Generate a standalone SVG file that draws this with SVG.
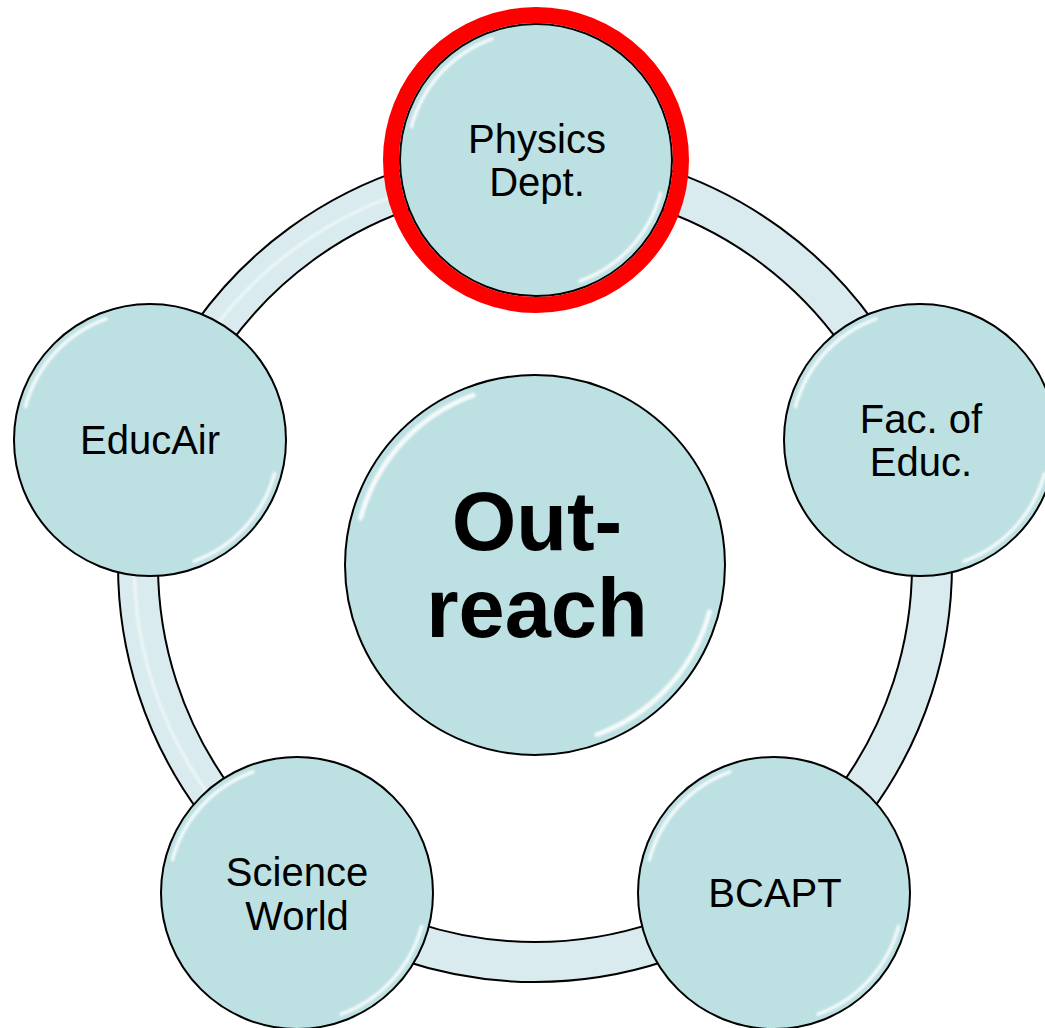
<svg xmlns="http://www.w3.org/2000/svg" xmlns:xlink="http://www.w3.org/1999/xlink" width="1045" height="1028" viewBox="0 0 1045 1028">
  <style>
    .node { fill: #bde0e3; stroke: #000000; stroke-width: 2; }
    .lbl { font-family: "Liberation Sans", Arial, sans-serif; font-size: 40px; fill: #000000; text-anchor: middle; }
    .big { font-family: "Liberation Sans", Arial, sans-serif; font-size: 83px; font-weight: bold; fill: #000000; text-anchor: middle; }
    .bandEdge { fill: none; stroke: #000000; stroke-width: 42; }
    .bandFill { fill: none; stroke: #d9ebee; stroke-width: 38; }
    .bandGloss { fill: none; stroke: #ffffff; stroke-width: 3; stroke-opacity: 0.55; }
    .gloss { fill: none; stroke: #ffffff; stroke-width: 3.5; stroke-linecap: round; stroke-opacity: 0.85; }
  </style>
  <defs>
    <filter id="soft" x="-20%" y="-20%" width="140%" height="140%">
      <feGaussianBlur stdDeviation="0.8"/>
    </filter>
    <g id="glossArcs" filter="url(#soft)">
      <path class="gloss" d="M -124.6 -33.4 A 129 129 0 0 1 -44.1 -121.2"/>
      <path class="gloss" d="M 124.6 33.4 A 129 129 0 0 1 44.1 121.2"/>
    </g>
  </defs>
  <rect width="1045" height="1028" fill="#ffffff"/>

  <g id="connectors">
    <path class="bandEdge" d="M 535 168 A 397 397 0 0 1 912.57 442.32"/>
    <path class="bandFill" d="M 535 168 A 397 397 0 0 1 912.57 442.32"/>
    <path class="bandEdge" d="M 912.57 442.32 A 397 397 0 0 1 768.35 886.18"/>
    <path class="bandFill" d="M 912.57 442.32 A 397 397 0 0 1 768.35 886.18"/>
    <path class="bandEdge" d="M 768.35 886.18 A 397 397 0 0 1 301.65 886.18"/>
    <path class="bandFill" d="M 768.35 886.18 A 397 397 0 0 1 301.65 886.18"/>
    <path class="bandEdge" d="M 301.65 886.18 A 397 397 0 0 1 157.43 442.32"/>
    <path class="bandFill" d="M 301.65 886.18 A 397 397 0 0 1 157.43 442.32"/>
    <path class="bandEdge" d="M 157.43 442.32 A 397 397 0 0 1 535 168"/>
    <path class="bandFill" d="M 157.43 442.32 A 397 397 0 0 1 535 168"/>
    <path class="bandGloss" filter="url(#soft)" d="M 301.65 886.18 A 392 392 0 0 1 535 173"/>
  </g>

  <g id="node-center">
    <circle class="node" cx="535" cy="565" r="190"/>
    <use xlink:href="#glossArcs" transform="translate(535 565) scale(1.4)"/>
    <text class="big" x="537" y="550">Out-</text>
    <text class="big" x="537" y="637">reach</text>
  </g>

  <g id="node-physics">
    <circle class="node" cx="536" cy="160" r="136"/>
    <use xlink:href="#glossArcs" transform="translate(536 160)"/>
    <circle cx="536" cy="160" r="145" fill="none" stroke="#ff0000" stroke-width="16"/>
    <text class="lbl" x="537" y="153">Physics</text>
    <text class="lbl" x="537" y="196">Dept.</text>
  </g>

  <g id="node-faceduc">
    <circle class="node" cx="920" cy="440" r="136"/>
    <use xlink:href="#glossArcs" transform="translate(920 440)"/>
    <text class="lbl" x="921" y="433">Fac. of</text>
    <text class="lbl" x="921" y="476">Educ.</text>
  </g>

  <g id="node-bcapt">
    <circle class="node" cx="774" cy="893" r="136"/>
    <use xlink:href="#glossArcs" transform="translate(774 893)"/>
    <text class="lbl" x="775" y="907">BCAPT</text>
  </g>

  <g id="node-scienceworld">
    <circle class="node" cx="297" cy="893" r="136"/>
    <use xlink:href="#glossArcs" transform="translate(297 893)"/>
    <text class="lbl" x="297" y="886">Science</text>
    <text class="lbl" x="297" y="930">World</text>
  </g>

  <g id="node-educair">
    <circle class="node" cx="150" cy="440" r="136"/>
    <use xlink:href="#glossArcs" transform="translate(150 440)"/>
    <text class="lbl" x="150" y="454">EducAir</text>
  </g>
</svg>
